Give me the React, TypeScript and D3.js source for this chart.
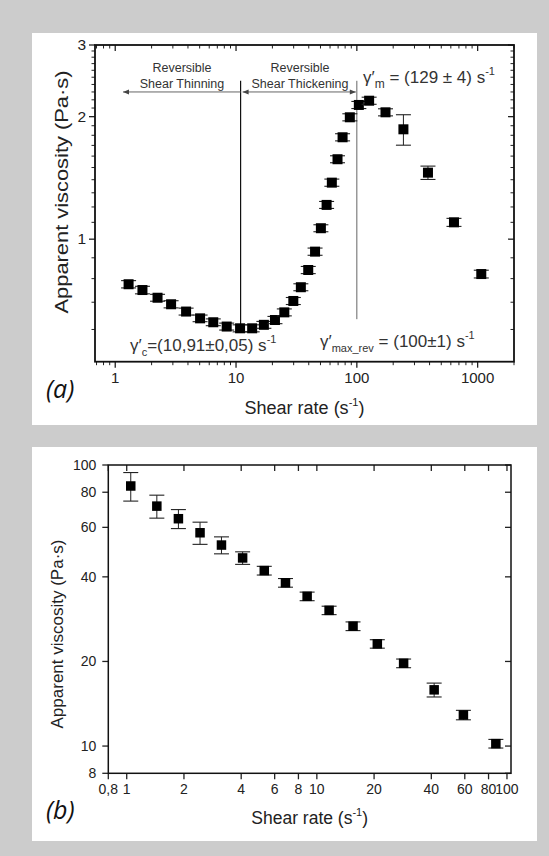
import React from "react";
import * as d3 from "d3";

// ---- Panel (a) data ----
const topShear = [1.29, 1.68, 2.24, 2.9, 3.86, 5.04, 6.48, 8.37, 10.8, 13.6, 17.0, 21.0, 25.1, 29.8, 34.4, 39.6, 45.1, 50.4, 56.2, 62.1, 69.2, 76.2, 87.5, 103.9, 126.4, 172.7, 243, 388, 637, 1072];
const topVisc = [0.775, 0.75, 0.718, 0.692, 0.664, 0.639, 0.625, 0.61, 0.604, 0.604, 0.616, 0.633, 0.661, 0.705, 0.762, 0.84, 0.932, 1.064, 1.214, 1.377, 1.572, 1.78, 1.993, 2.137, 2.189, 2.05, 1.862, 1.457, 1.1, 0.821];
const topErr = [0.016, 0.016, 0.014, 0.014, 0.013, 0.012, 0.012, 0.012, 0.012, 0.012, 0.012, 0.013, 0.013, 0.014, 0.015, 0.017, 0.019, 0.021, 0.024, 0.028, 0.031, 0.036, 0.04, 0.043, 0.044, 0.041, 0.16, 0.055, 0.025, 0.018];
const topXTicks = [1, 10, 100, 1000];
const topXLabels = ["1", "10", "100", "1000"];
const topYTicks = [1, 2, 3];
const topYLabels = ["1", "2", "3"];
const gammaC = 10.91;
const gammaMaxRev = 100;

// ---- Panel (b) data ----
const botShear = [1.05, 1.44, 1.87, 2.43, 3.15, 4.07, 5.29, 6.84, 8.89, 11.6, 15.5, 20.8, 28.6, 41.4, 59, 87.4];
const botVisc = [84.2, 71.4, 64.4, 57.4, 51.9, 46.7, 42.1, 38.1, 34.1, 30.4, 26.7, 23.1, 19.7, 15.85, 12.9, 10.2];
const botErr = [9.8, 6.7, 5.0, 5.2, 3.6, 2.4, 1.5, 1.35, 1.2, 1.05, 0.95, 0.8, 0.7, 0.9, 0.5, 0.36];
const botXTicks = [0.8, 1, 2, 4, 6, 8, 10, 20, 40, 60, 80, 100];
const botXLabels = ["0,8", "1", "2", "4", "6", "8", "10", "20", "40", "60", "80", "100"];
const botYTicks = [8, 10, 20, 40, 60, 80, 100];
const botYLabels = ["8", "10", "20", "40", "60", "80", "100"];

const FONT = "'Liberation Sans', Arial, sans-serif";
const INK = "#222";

function ErrSquares({ xs, ys, x, y, e, size, cap }: any) {
  return (
    <g>
      {xs.map((xv: number, i: number) => {
        const cx = x(xv);
        const cy = y(ys[i]);
        const y1 = y(ys[i] + e[i]);
        const y2 = y(ys[i] - e[i]);
        return (
          <g key={i}>
            <line x1={cx} x2={cx} y1={y1} y2={y2} stroke={INK} strokeWidth={1} />
            <line x1={cx - cap / 2} x2={cx + cap / 2} y1={y1} y2={y1} stroke={INK} strokeWidth={1.1} />
            <line x1={cx - cap / 2} x2={cx + cap / 2} y1={y2} y2={y2} stroke={INK} strokeWidth={1.1} />
            <rect x={cx - size / 2} y={cy - size / 2} width={size} height={size} fill="#000" />
          </g>
        );
      })}
    </g>
  );
}

export default function App() {
  // Panel (a) scales
  const xT = d3.scaleLog().domain([0.68, 2000]).range([95, 514]);
  const yT = d3.scaleLog().domain([0.5, 3]).range([361.7, 45]);
  // Panel (b) scales
  const xB = d3.scaleLog().domain([0.8, 105]).range([108.3, 511]);
  const yB = d3.scaleLog().domain([8, 100]).range([773.3, 465]);

  const [tx0, tx1] = xT.range();
  const [ty0, ty1] = yT.range();
  const [bx0, bx1] = xB.range();
  const [by0, by1] = yB.range();

  const topXMinor: number[] = [];
  [0.1, 1, 10, 100, 1000].forEach((d) => {
    for (let m = 2; m <= 9; m++) {
      const v = d * m;
      if (v >= 0.68 && v <= 2000) topXMinor.push(v);
    }
  });
  const topYMinor: number[] = [];
  for (let k = 6; k <= 29; k++) {
    if (k % 10 !== 0) topYMinor.push(k / 10);
  }

  const MJ = 6;
  const MN = 3.5;

  const lineTop = yT(2.45);
  const arrowY = yT(2.3);
  const xc = xT(gammaC);
  const xm = xT(gammaMaxRev);
  const arrL = xT(1.16);

  const head = (x: number, y: number, dir: number) =>
    `M${x},${y} L${x - dir * 6},${y - 2.5} L${x - dir * 6},${y + 2.5} Z`;

  return (
    <svg
      width={549}
      height={856}
      style={{ position: "absolute", left: 0, top: 0, display: "block" }}
      fontFamily={FONT}
    >
      <rect x={0} y={0} width={549} height={856} fill="#cccccc" />
      <rect x={32} y={33} width={505} height={392} fill="#fff" />
      <rect x={32} y={447} width={505} height={394} fill="#fff" />

      {/* ================= Panel (a) ================= */}
      <g>
        {topXMinor.map((v, i) => (
          <g key={"txm" + i}>
            <line x1={xT(v)} x2={xT(v)} y1={ty0} y2={ty0 + MN} stroke={INK} strokeWidth={1} />
            <line x1={xT(v)} x2={xT(v)} y1={ty1} y2={ty1 + MN} stroke={INK} strokeWidth={1} />
          </g>
        ))}
        {topXTicks.map((v, i) => (
          <g key={"txM" + i}>
            <line x1={xT(v)} x2={xT(v)} y1={ty0} y2={ty0 + MJ} stroke={INK} strokeWidth={1.3} />
            <line x1={xT(v)} x2={xT(v)} y1={ty1} y2={ty1 + MJ} stroke={INK} strokeWidth={1.3} />
            <text x={xT(v)} y={ty0 + 21} textAnchor="middle" fontSize={15} fill={INK}>
              {topXLabels[i]}
            </text>
          </g>
        ))}
        {topYMinor.map((v, i) => (
          <g key={"tym" + i}>
            <line x1={tx0} x2={tx0 - MN} y1={yT(v)} y2={yT(v)} stroke={INK} strokeWidth={1} />
            <line x1={tx1} x2={tx1 - MN} y1={yT(v)} y2={yT(v)} stroke={INK} strokeWidth={1} />
          </g>
        ))}
        {topYTicks.map((v, i) => (
          <g key={"tyM" + i}>
            <line x1={tx0} x2={tx0 - MJ} y1={yT(v)} y2={yT(v)} stroke={INK} strokeWidth={1.3} />
            <line x1={tx1} x2={tx1 - MJ} y1={yT(v)} y2={yT(v)} stroke={INK} strokeWidth={1.3} />
            <text x={tx0 - 9} y={yT(v) + 5} textAnchor="end" fontSize={15.5} fill={INK}>
              {topYLabels[i]}
            </text>
          </g>
        ))}
        <rect x={tx0} y={ty1} width={tx1 - tx0} height={ty0 - ty1} fill="none" stroke="#111" strokeWidth={1.8} />

        <line x1={xc} x2={xc} y1={lineTop} y2={yT(0.61)} stroke="#111" strokeWidth={1.2} />
        <line x1={xm} x2={xm} y1={lineTop} y2={yT(0.636)} stroke="#666" strokeWidth={1} />
        <line x1={arrL} x2={xc} y1={arrowY} y2={arrowY} stroke="#666" strokeWidth={1} />
        <path d={head(arrL, arrowY, -1)} fill="#444" />
        <line x1={xc + 2} x2={xm - 1} y1={arrowY} y2={arrowY} stroke="#666" strokeWidth={1} />
        <path d={head(xc + 2, arrowY, -1)} fill="#444" />
        <path d={head(xm - 1, arrowY, 1)} fill="#444" />

        <g fontSize={12.5} fill="#333" textAnchor="middle">
          <text x={182} y={72}>Reversible</text>
          <text x={182} y={88}>Shear Thinning</text>
          <text x={300} y={72}>Reversible</text>
          <text x={300} y={88}>Shear Thickening</text>
        </g>

        <text x={363} y={83} fontSize={17} fill="#333">
          <tspan>γ′</tspan>
          <tspan fontSize={12} dy={5}>m</tspan>
          <tspan dy={-5}> = (129 ± 4) s</tspan>
          <tspan fontSize={11} dy={-8}>-1</tspan>
        </text>
        <text x={130} y={351} fontSize={17} fill="#333">
          <tspan>γ′</tspan>
          <tspan fontSize={11} dy={5}>c</tspan>
          <tspan dy={-5}>=(10,91±0,05) s</tspan>
          <tspan fontSize={11} dy={-8}>-1</tspan>
        </text>
        <text x={320} y={347} fontSize={17} fill="#333">
          <tspan>γ′</tspan>
          <tspan fontSize={11} dy={5}>max_rev</tspan>
          <tspan dy={-5}> = (100±1) s</tspan>
          <tspan fontSize={11} dy={-8}>-1</tspan>
        </text>

        <ErrSquares xs={topShear} ys={topVisc} x={xT} y={yT} e={topErr} size={10} cap={15} />

        <text
          transform={`translate(61,192) rotate(-90)`}
          textAnchor="middle"
          dominantBaseline="central"
          fontSize={19}
          fill={INK}
          textLength={243}
          lengthAdjust="spacingAndGlyphs"
        >
          Apparent viscosity (Pa·s)
        </text>
        <text x={(tx0 + tx1) / 2} y={414} textAnchor="middle" fontSize={18} fill={INK}>
          <tspan>Shear rate (s</tspan>
          <tspan fontSize={11} dy={-8}>-1</tspan>
          <tspan dy={8}>)</tspan>
        </text>
        <text x={46} y={398} fontSize={25} fontStyle="italic" fontFamily="'Open Sans', sans-serif" fill="#111">
          (a)
        </text>
      </g>

      {/* ================= Panel (b) ================= */}
      <g>
        {botXTicks.map((v, i) => (
          <g key={"bx" + i}>
            <line x1={xB(v)} x2={xB(v)} y1={by0} y2={by0 + MJ} stroke={INK} strokeWidth={1.3} />
            <line x1={xB(v)} x2={xB(v)} y1={by1} y2={by1 + MJ} stroke={INK} strokeWidth={1.3} />
            <text x={xB(v)} y={by0 + 21} textAnchor="middle" fontSize={14} fill={INK}>
              {botXLabels[i]}
            </text>
          </g>
        ))}
        {botYTicks.map((v, i) => (
          <g key={"by" + i}>
            <line x1={bx0} x2={bx0 - MJ} y1={yB(v)} y2={yB(v)} stroke={INK} strokeWidth={1.3} />
            <line x1={bx1} x2={bx1 - MJ} y1={yB(v)} y2={yB(v)} stroke={INK} strokeWidth={1.3} />
            <text x={bx0 - 12} y={yB(v) + 5} textAnchor="end" fontSize={14} fill={INK}>
              {botYLabels[i]}
            </text>
          </g>
        ))}
        <rect x={bx0} y={by1} width={bx1 - bx0} height={by0 - by1} fill="none" stroke="#111" strokeWidth={1.5} />

        <ErrSquares xs={botShear} ys={botVisc} x={xB} y={yB} e={botErr} size={9.5} cap={15} />

        <text
          transform={`translate(57,634) rotate(-90)`}
          textAnchor="middle"
          dominantBaseline="central"
          fontSize={17}
          fill={INK}
        >
          Apparent viscosity (Pa·s)
        </text>
        <text x={(bx0 + bx1) / 2} y={824} textAnchor="middle" fontSize={17.5} fill={INK}>
          <tspan>Shear rate (s</tspan>
          <tspan fontSize={11} dy={-8}>-1</tspan>
          <tspan dy={8}>)</tspan>
        </text>
        <text x={46} y={819} fontSize={25} fontStyle="italic" fontFamily="'Open Sans', sans-serif" fill="#111">
          (b)
        </text>
      </g>
    </svg>
  );
}
